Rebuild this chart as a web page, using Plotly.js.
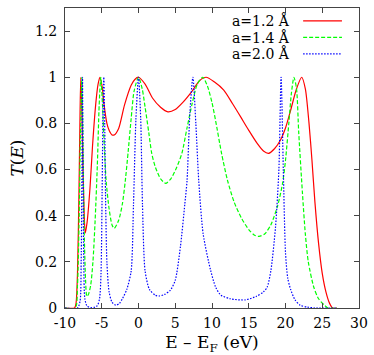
<!DOCTYPE html>
<html>
<head>
<meta charset="utf-8">
<script src="https://cdn.plot.ly/plotly-3.0.1.min.js"></script>
<style>
  html, body { margin: 0; padding: 0; background: #fff; }
  #plot { width: 374px; height: 355px; }
</style>
</head>
<body>
<div id="plot"></div>
<script>
// transmission T(E), three lattice constants
var seriesNames = ['a=1.2 Å', 'a=1.4 Å', 'a=2.0 Å']

var eRed = [-10, -8.7, -8.5, -8.3, -8.1, -7.95, -7.85, -7.7, -7.55, -7.4, -7.25, -7.0, -6.6, -6.26, -5.8, -5.5, -5.25,
  -4.95, -4.72, -4.3, -4.0, -3.6, -3.3, -2.7, -1.9, -1.0, -0.5, 0, 0.9, 1.9, 3.0, 4.0, 5.0, 6.0, 7.3, 8.3, 9.2,
  10.3, 11.6, 12.8, 13.9, 15.0, 16.15, 17.0, 17.7, 18.5, 19.3, 20.0, 20.7, 21.5, 22.2, 22.7, 23.2, 23.6, 24.0, 24.5,
  25.0, 25.5, 26.0, 26.4, 27]
var tRed = [0, 0, 0.02, 0.15, 0.5, 0.85, 1.0, 0.85, 0.6, 0.42, 0.325, 0.37, 0.52, 0.7, 0.89, 0.97, 1.0,
  0.96, 0.89, 0.8, 0.77, 0.75, 0.75, 0.778, 0.88, 0.965, 0.99, 1.0, 0.97, 0.91, 0.87, 0.85, 0.86, 0.89, 0.94, 0.985, 1.0,
  0.98, 0.944, 0.885, 0.828, 0.77, 0.713, 0.68, 0.67, 0.69, 0.727, 0.78, 0.857, 0.95, 1.0, 0.95, 0.8, 0.64, 0.46, 0.28,
  0.15, 0.07, 0.02, 0, 0]

var eGreen = [-10, -8.6, -8.3, -8.1, -7.9, -7.7, -7.55, -7.4, -7.2, -7.03, -6.8, -6.5, -6.2, -5.9, -5.6, -5.35, -5.13,
  -4.9, -4.65, -4.4, -4.0, -3.6, -3.3, -2.7, -2.2, -1.8, -1.4, -1.0, -0.6, 0, 0.5, 0.9, 1.4, 1.8, 2.3, 3.0, 3.7,
  4.4, 5.2, 5.9, 6.6, 7.3, 8.0, 8.75, 9.4, 10.0, 10.5, 11.3, 12.1, 13.0, 14.0, 15.0, 15.8, 16.4, 17.2, 18.0, 18.9,
  19.6, 20.0, 20.45, 20.8, 21.15, 21.5, 21.8, 22.3, 22.7, 23.1, 23.85, 24.5, 25.2, 25.8, 27]
var tGreen = [0, 0, 0.1, 0.35, 0.75, 1.0, 0.7, 0.35, 0.12, 0.05, 0.06, 0.1, 0.2, 0.38, 0.62, 0.88, 1.0,
  0.88, 0.7, 0.55, 0.43, 0.36, 0.345, 0.38, 0.45, 0.55, 0.68, 0.82, 0.94, 1.0, 0.95, 0.87, 0.76, 0.67, 0.61, 0.56, 0.54,
  0.56, 0.61, 0.67, 0.78, 0.886, 0.97, 1.0, 0.96, 0.89, 0.81, 0.67, 0.554, 0.46, 0.39, 0.34, 0.315, 0.31, 0.322, 0.36, 0.44,
  0.54, 0.64, 0.8, 0.93, 1.0, 0.95, 0.76, 0.5, 0.32, 0.2, 0.09, 0.04, 0.015, 0, 0]

var eBlue = [-10, -8.3, -7.95, -7.8, -7.7, -7.62, -7.54, -7.45, -7.3, -7.0, -6.5, -6.0, -5.6, -5.3, -5.1, -4.95, -4.85,
  -4.72, -4.6, -4.49, -4.3, -4.0, -3.6, -3.1, -2.6, -2.2, -1.6, -1.0, -0.68, -0.35, 0, 0.3, 0.54, 0.9, 1.5, 2.3, 2.8,
  3.5, 4.35, 5.0, 5.7, 6.3, 6.6, 7.0, 7.4, 7.8, 8.2, 8.8, 9.8, 10.5, 11.2, 12.5, 14.5, 16.0, 17.0, 17.5, 18.0, 18.64,
  19.1, 19.4, 19.7, 20.0, 20.3, 20.7, 21.3, 22.0, 23.0, 24.0, 27]
var tBlue = [0, 0, 0.03, 0.2, 0.6, 1.0, 0.6, 0.2, 0.04, 0.008, 0.002, 0.003, 0.01, 0.04, 0.15, 0.5, 0.8,
  1.0, 0.8, 0.5, 0.2, 0.07, 0.025, 0.012, 0.02, 0.04, 0.08, 0.16, 0.45, 0.82, 1.0, 0.82, 0.45, 0.16, 0.08, 0.055, 0.052,
  0.058, 0.078, 0.12, 0.265, 0.45, 0.55, 0.85, 1.0, 0.8, 0.55, 0.32, 0.165, 0.09, 0.056, 0.04, 0.035, 0.05, 0.07, 0.09, 0.16, 0.35,
  0.6, 1.0, 0.6, 0.24, 0.13, 0.08, 0.035, 0.012, 0.004, 0, 0]

var xTickVals = [-10, -5, 0, 5, 10, 15, 20, 25, 30]
var xTickText = ['-10', '-5', '0', '5', '10', '15', '20', '25', '30']
var yTickVals = [0, 0.2, 0.4, 0.6, 0.8, 1, 1.2]
var yTickText = ['0', '0.2', '0.4', '0.6', '0.8', '1', '1.2']

var colors = ['#ff0000', '#00ff00', '#0000ff']
var dashes = ['solid', '4px,2px', '1.5px,1.5px']
var xs = [eRed, eGreen, eBlue]
var ys = [tRed, tGreen, tBlue]

var data = []
for (var i = 0; i < 3; i++) {
  data.push({
    x: xs[i],
    y: ys[i],
    type: 'scatter',
    mode: 'lines',
    name: seriesNames[i],
    line: { color: colors[i], width: 1.2, dash: dashes[i], shape: 'spline', smoothing: 0.7 },
    showlegend: false,
  })
}

// gnuplot-style key: text on the left, line sample on the right
var shapes = []
var annotations = []
var keyY = [0.957, 0.902, 0.847]
for (var k = 0; k < 3; k++) {
  annotations.push({
    xref: 'paper', yref: 'paper', x: 0.772, y: keyY[k],
    xanchor: 'right', yanchor: 'middle', showarrow: false,
    text: seriesNames[k],
    font: { family: 'DejaVu Serif', size: 14, color: '#000' },
  })
  shapes.push({
    type: 'line', xref: 'paper', yref: 'paper',
    x0: 0.81, x1: 0.942, y0: keyY[k], y1: keyY[k],
    line: { color: colors[k], width: 1.2, dash: dashes[k] },
  })
}

var layout = {
  width: 374,
  height: 355,
  margin: { l: 65, r: 15, t: 8, b: 47 },
  paper_bgcolor: '#fff',
  plot_bgcolor: '#fff',
  font: { family: 'DejaVu Serif', size: 14, color: '#000' },
  xaxis: {
    range: [-10, 30],
    tickvals: xTickVals,
    ticktext: xTickText,
    ticks: 'inside',
    ticklen: 5,
    tickcolor: '#444',
    showline: true,
    linecolor: '#444',
    mirror: 'ticks',
    showgrid: false,
    zeroline: false,
    ticklabelstandoff: 2,
    title: { text: 'E – E<sub>F</sub> (eV)', standoff: 8 },
  },
  yaxis: {
    range: [0, 1.3],
    tickvals: yTickVals,
    ticktext: yTickText,
    ticks: 'inside',
    ticklen: 5,
    tickcolor: '#444',
    showline: true,
    linecolor: '#444',
    mirror: 'ticks',
    showgrid: false,
    zeroline: false,
    ticklabelstandoff: 4,
    title: { text: '<i>T</i>(<i>E</i>)', standoff: 6 },
  },
  shapes: shapes,
  annotations: annotations,
}

Plotly.newPlot('plot', data, layout, { displayModeBar: false, staticPlot: true })
</script>
</body>
</html>
